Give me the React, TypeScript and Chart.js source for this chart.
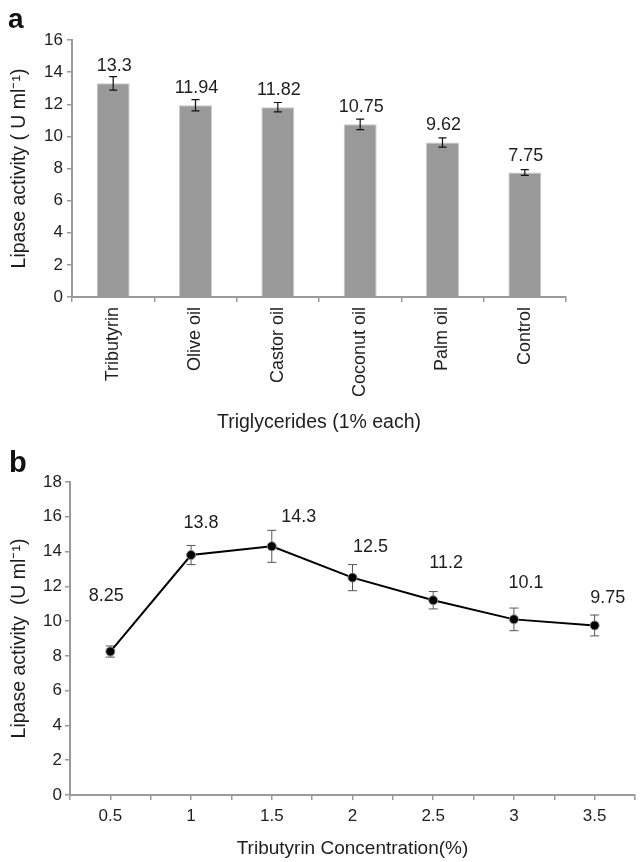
import React, { useEffect, useRef } from 'react';
import { Chart, registerables } from 'chart.js';

Chart.register(...registerables);

// ---------- data: panel a ----------
const oilCategories = ['Tributyrin', 'Olive oil', 'Castor oil', 'Coconut oil', 'Palm oil', 'Control'];
const oilActivity = [13.3, 11.94, 11.82, 10.75, 9.62, 7.75];
const oilError = [0.42, 0.35, 0.29, 0.33, 0.29, 0.18];
const oilYMin = 0;
const oilYMax = 16;
const oilYStep = 2;

// ---------- data: panel b ----------
const concentrations = [0.5, 1, 1.5, 2, 2.5, 3, 3.5];
const concActivity = [8.25, 13.8, 14.3, 12.5, 11.2, 10.1, 9.75];
const concError = [0.32, 0.55, 0.92, 0.75, 0.5, 0.65, 0.6];
const concYMin = 0;
const concYMax = 18;
const concYStep = 2;
const concXMin = 0.25;
const concXMax = 3.75;
const concXStep = 0.25;

// ---------- styles ----------
const FONT = '"Liberation Sans", Arial, Helvetica, sans-serif';
const TEXT = '#1e1e1e';
const AXIS = '#9a9a9a';
// label offsets (pixels) for panel b value labels, relative to each point
const concLabelDx = [-4, 10, 27, 18, 13, 12, 13];
const concLabelDy = [-56, -32, -29, -31, -37, -36, -27];

function makePanelA(canvas: HTMLCanvasElement) {
  const errorAndLabels = {
    id: 'errA',
    afterDatasetsDraw(chart: any) {
      const { ctx } = chart;
      const meta = chart.getDatasetMeta(0);
      const y = chart.scales.y;
      ctx.save();
      meta.data.forEach((bar: any, i: number) => {
        const v = oilActivity[i];
        const e = oilError[i];
        const top = y.getPixelForValue(v + e);
        const bot = y.getPixelForValue(v - e);
        const x = bar.x;
        ctx.strokeStyle = '#111';
        ctx.lineWidth = 1.2;
        ctx.beginPath();
        ctx.moveTo(x, top);
        ctx.lineTo(x, bot);
        ctx.moveTo(x - 4, top);
        ctx.lineTo(x + 4, top);
        ctx.moveTo(x - 4, bot);
        ctx.lineTo(x + 4, bot);
        ctx.stroke();
        ctx.fillStyle = TEXT;
        ctx.font = `18px ${FONT}`;
        ctx.textAlign = 'center';
        ctx.textBaseline = 'alphabetic';
        ctx.fillText(String(v), x + 1, y.getPixelForValue(v) - 12);
      });
      ctx.restore();
    },
    afterDraw(chart: any) {
      const { ctx } = chart;
      ctx.save();
      ctx.fillStyle = '#111';
      ctx.font = `bold 28px ${FONT}`;
      ctx.textAlign = 'left';
      ctx.textBaseline = 'alphabetic';
      ctx.fillText('a', 8, 28);
      ctx.restore();
    },
  };

  return new Chart(canvas, {
    type: 'bar',
    data: {
      labels: oilCategories,
      datasets: [
        {
          data: oilActivity,
          backgroundColor: '#999999',
          borderColor: '#c6c6c6',
          borderWidth: 1,
          barPercentage: 0.4,
          categoryPercentage: 1,
        },
      ],
    },
    options: {
      animation: false,
      responsive: false,
      maintainAspectRatio: false,
      devicePixelRatio: 1,
      layout: { padding: { top: 40, right: 75, left: 0, bottom: 0 } },
      plugins: { legend: { display: false }, tooltip: { enabled: false } },
      scales: {
        x: {
          grid: { offset: true, drawOnChartArea: false, tickLength: 5, color: AXIS, lineWidth: 1.5 },
          border: { color: AXIS, width: 2 },
          ticks: {
            maxRotation: 90,
            minRotation: 90,
            padding: 5,
            autoSkip: false,
            color: TEXT,
            font: { family: FONT, size: 18 },
          },
          title: {
            display: true,
            text: 'Triglycerides (1% each)',
            color: TEXT,
            font: { family: FONT, size: 19.5 },
            padding: { top: 0, bottom: 6 },
          },
          afterFit(scale: any) {
            scale.height = 143;
          },
        },
        y: {
          min: oilYMin,
          max: oilYMax,
          grid: { drawOnChartArea: false, tickLength: 5, color: AXIS, lineWidth: 1.5 },
          border: { color: AXIS, width: 2 },
          ticks: {
            stepSize: oilYStep,
            padding: 4,
            color: TEXT,
            font: { family: FONT, size: 17 },
          },
          title: {
            display: true,
            text: 'Lipase activity ( U ml\u207B\u00B9)',
            color: TEXT,
            font: { family: FONT, size: 19.5 },
            padding: { top: 8, bottom: 0 },
          },
          afterFit(scale: any) {
            scale.width = 72;
          },
        },
      },
    },
    plugins: [errorAndLabels],
  } as any);
}

function makePanelB(canvas: HTMLCanvasElement) {
  const errorPlugin = {
    id: 'errB',
    beforeDatasetsDraw(chart: any) {
      const { ctx } = chart;
      const x = chart.scales.x;
      const y = chart.scales.y;
      ctx.save();
      ctx.strokeStyle = '#555';
      ctx.lineWidth = 1;
      concentrations.forEach((c, i) => {
        const px = x.getPixelForValue(c);
        const top = y.getPixelForValue(concActivity[i] + concError[i]);
        const bot = y.getPixelForValue(concActivity[i] - concError[i]);
        ctx.beginPath();
        ctx.moveTo(px, top);
        ctx.lineTo(px, bot);
        ctx.moveTo(px - 4.5, top);
        ctx.lineTo(px + 4.5, top);
        ctx.moveTo(px - 4.5, bot);
        ctx.lineTo(px + 4.5, bot);
        ctx.stroke();
      });
      ctx.restore();
    },
    afterDatasetsDraw(chart: any) {
      const { ctx } = chart;
      const x = chart.scales.x;
      const y = chart.scales.y;
      ctx.save();
      ctx.fillStyle = TEXT;
      ctx.font = `18px ${FONT}`;
      ctx.textAlign = 'center';
      ctx.textBaseline = 'middle';
      concentrations.forEach((c, i) => {
        const px = x.getPixelForValue(c) + concLabelDx[i];
        const py = y.getPixelForValue(concActivity[i]) + concLabelDy[i];
        ctx.fillText(String(concActivity[i]), px, py);
      });
      ctx.restore();
    },
    afterDraw(chart: any) {
      const { ctx } = chart;
      ctx.save();
      ctx.fillStyle = '#111';
      ctx.font = `bold 29px ${FONT}`;
      ctx.textAlign = 'left';
      ctx.textBaseline = 'alphabetic';
      ctx.fillText('b', 9, 32);
      ctx.restore();
    },
  };

  return new Chart(canvas, {
    type: 'line',
    data: {
      datasets: [
        {
          data: concentrations.map((c, i) => ({ x: c, y: concActivity[i] })),
          borderColor: '#000',
          borderWidth: 2,
          pointRadius: 4.5,
          pointBackgroundColor: '#000',
          pointBorderColor: '#888',
          pointBorderWidth: 1,
          tension: 0,
          fill: false,
        },
      ],
    },
    options: {
      animation: false,
      responsive: false,
      maintainAspectRatio: false,
      devicePixelRatio: 1,
      layout: { padding: { top: 42, right: 0, left: 0, bottom: 0 } },
      plugins: { legend: { display: false }, tooltip: { enabled: false } },
      scales: {
        x: {
          type: 'linear',
          min: concXMin,
          max: concXMax,
          grid: { drawOnChartArea: false, tickLength: 5, color: AXIS, lineWidth: 1.5 },
          border: { color: AXIS, width: 2 },
          ticks: {
            stepSize: concXStep,
            autoSkip: false,
            maxRotation: 0,
            padding: 6,
            color: TEXT,
            font: { family: FONT, size: 17 },
            callback: (v: any) => (Number.isInteger(Number(v) * 2) ? String(v) : ''),
          },
          title: {
            display: true,
            text: 'Tributyrin Concentration(%)',
            color: TEXT,
            font: { family: FONT, size: 19 },
            padding: { top: 0, bottom: 2 },
          },
          afterFit(scale: any) {
            scale.height = 67;
          },
        },
        y: {
          min: concYMin,
          max: concYMax,
          grid: { drawOnChartArea: false, tickLength: 5, color: AXIS, lineWidth: 1.5 },
          border: { color: AXIS, width: 2 },
          ticks: {
            stepSize: concYStep,
            padding: 3,
            color: TEXT,
            font: { family: FONT, size: 17 },
          },
          title: {
            display: true,
            text: 'Lipase activity  (U ml\u207B\u00B9)',
            color: TEXT,
            font: { family: FONT, size: 19.5 },
            padding: { top: 8, bottom: 0 },
          },
          afterFit(scale: any) {
            scale.width = 70;
          },
        },
      },
    },
    plugins: [errorPlugin],
  } as any);
}

export default function App() {
  const refA = useRef<HTMLCanvasElement | null>(null);
  const refB = useRef<HTMLCanvasElement | null>(null);

  useEffect(() => {
    const a = refA.current ? makePanelA(refA.current) : null;
    const b = refB.current ? makePanelB(refB.current) : null;
    return () => {
      a?.destroy();
      b?.destroy();
    };
  }, []);

  return (
    <div style={{ position: 'absolute', left: 0, top: 0, width: 641, height: 862, background: '#fff' }}>
      <canvas
        ref={refA}
        width={641}
        height={440}
        style={{ position: 'absolute', left: 0, top: 0, width: 641, height: 440 }}
      />
      <canvas
        ref={refB}
        width={641}
        height={422}
        style={{ position: 'absolute', left: 0, top: 440, width: 641, height: 422 }}
      />
    </div>
  );
}
